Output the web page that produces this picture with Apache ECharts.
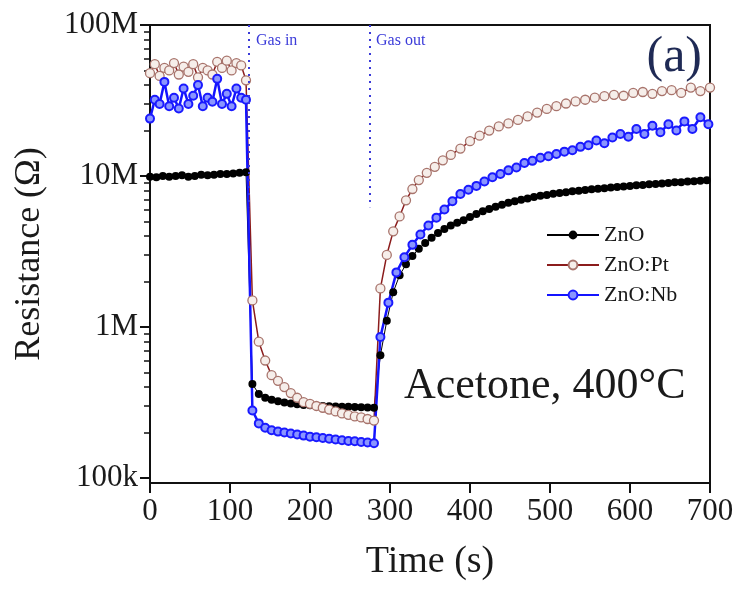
<!DOCTYPE html>
<html>
<head>
<meta charset="utf-8">
<script src="https://cdn.jsdelivr.net/npm/echarts@6/dist/echarts.min.js"></script>
<style>
  html, body { margin: 0; padding: 0; background: #ffffff; }
  #chart { width: 742px; height: 589px; }
</style>
</head>
<body>
<div id="chart"></div>
<script>
// ---- Sensor response data: time in seconds, resistance in MΩ ----
const tZnO = [0, 8, 16, 24, 32, 40, 48, 56, 64, 72, 80, 88, 96, 104, 112, 120,
  128, 136, 144, 152, 160, 168, 176, 184, 192, 200, 208, 216, 224, 232, 240, 248, 256, 264, 272, 280,
  288, 296, 304, 312, 320, 328, 336, 344, 352, 360, 368, 376, 384, 392, 400, 408, 416, 424, 432, 440,
  448, 456, 464, 472, 480, 488, 496, 504, 512, 520, 528, 536, 544, 552, 560, 568, 576, 584, 592, 600,
  608, 616, 624, 632, 640, 648, 656, 664, 672, 680, 688, 696];
const rZnO = [9.9, 9.8, 10.0, 9.9, 10.0, 10.1, 9.9, 10.0, 10.2, 10.1, 10.2, 10.3, 10.3, 10.4, 10.5, 10.6,
  0.42, 0.36, 0.34, 0.33, 0.322, 0.316, 0.312, 0.308, 0.305, 0.303, 0.301, 0.300, 0.299, 0.298, 0.297, 0.296, 0.295, 0.294, 0.293, 0.292,
  0.65, 1.1, 1.7, 2.2, 2.6, 2.95, 3.3, 3.6, 3.9, 4.2, 4.45, 4.7, 4.9, 5.1, 5.35, 5.6, 5.85, 6.05, 6.25, 6.45,
  6.65, 6.8, 6.95, 7.1, 7.25, 7.4, 7.5, 7.62, 7.72, 7.82, 7.92, 8.0, 8.08, 8.16, 8.24, 8.3, 8.38, 8.46, 8.52, 8.6,
  8.68, 8.72, 8.82, 8.84, 8.92, 8.98, 9.08, 9.08, 9.18, 9.22, 9.32, 9.38];

const tPt = [0, 6, 12, 18, 24, 30, 36, 42, 48, 54, 60, 66, 72, 78, 84, 90, 96, 102, 108, 114, 120,
  128, 136, 144, 152, 160, 168, 176, 184, 192, 200, 208, 216, 224, 232, 240, 248, 256, 264, 272, 280,
  288, 296, 304, 312, 320, 328, 336, 346, 356, 366, 376, 388, 400, 412, 424, 436, 448, 460, 472, 484,
  496, 508, 520, 532, 544, 556, 568, 580, 592, 604, 616, 628, 640, 652, 664, 676, 688, 700];
const rPt = [48, 55, 46, 52, 50, 56, 47, 53, 49, 55, 45, 52, 50, 47, 57, 52, 58, 50, 56, 54, 43,
  1.5, 0.8, 0.6, 0.48, 0.44, 0.4, 0.365, 0.34, 0.318, 0.31, 0.3, 0.292, 0.284, 0.276, 0.268, 0.262, 0.256, 0.252, 0.246, 0.24,
  1.8, 3.0, 4.3, 5.4, 6.9, 8.2, 9.4, 10.5, 11.5, 12.7, 13.8, 15.2, 17.0, 18.5, 20.0, 21.3, 22.3, 23.5, 24.8, 26.3,
  27.8, 29.0, 30.2, 31.2, 32.0, 33.0, 33.8, 34.5, 34.0, 35.5, 36.0, 35.0, 36.5, 37.0, 35.5, 38.5, 36.5, 38.5];

const tNb = [0, 6, 12, 18, 24, 30, 36, 42, 48, 54, 60, 66, 72, 78, 84, 90, 96, 102, 108, 114, 120,
  128, 136, 144, 152, 160, 168, 176, 184, 192, 200, 208, 216, 224, 232, 240, 248, 256, 264, 272, 280,
  288, 298, 308, 318, 328, 338, 348, 358, 368, 378, 388, 398, 408, 418, 428, 438, 448, 458, 468, 478,
  488, 498, 508, 518, 528, 538, 548, 558, 568, 578, 588, 598, 608, 618, 628, 638, 648, 658, 668, 678, 688, 698];
const rNb = [24, 32, 30, 42, 29, 33, 28, 38, 30, 34, 40, 29, 33, 31, 44, 30, 35, 29, 38, 33, 32,
  0.28, 0.23, 0.215, 0.207, 0.203, 0.2, 0.197, 0.194, 0.191, 0.188, 0.186, 0.184, 0.182, 0.18, 0.178, 0.176, 0.175, 0.173, 0.172, 0.17,
  0.86, 1.45, 2.3, 2.9, 3.5, 4.1, 4.7, 5.3, 6.0, 6.8, 7.6, 8.1, 8.6, 9.2, 9.8, 10.3, 10.9, 11.4, 12.2, 12.6,
  13.2, 13.5, 14.0, 14.5, 14.8, 15.6, 16.0, 17.2, 16.5, 18.0, 19.0, 18.2, 20.5, 19.0, 21.5, 19.5, 22.0, 20.0, 23.0, 20.5, 24.5, 22.0];

// Gas switching instants (s)
const gasInTime = 123;
const gasOutTime = 275;

// Axis ticks
const xTickValues = [0, 100, 200, 300, 400, 500, 600, 700];
const yMajorValues = [1e5, 1e6, 1e7, 1e8];
const yMajorLabels = ['100k', '1M', '10M', '100M'];
const yMinorValues = [2e5, 3e5, 4e5, 5e5, 6e5, 7e5, 8e5, 9e5,
  2e6, 3e6, 4e6, 5e6, 6e6, 7e6, 8e6, 9e6,
  2e7, 3e7, 4e7, 5e7, 6e7, 7e7, 8e7, 9e7];
const yMin = 92700;
const yMax = 1e8;

const serif = '"Liberation Serif", "Times New Roman", serif';
const ink = '#1a1a1a';

function pairs(ts, rs) {
  return ts.map((t, i) => [t, rs[i] * 1e6]);
}

function yLabel(v) {
  for (let i = 0; i < yMajorValues.length; i++) {
    if (Math.abs(Math.log10(v) - Math.log10(yMajorValues[i])) < 1e-6) return yMajorLabels[i];
  }
  return '';
}

const chart = echarts.init(document.getElementById('chart'), null, { renderer: 'canvas' });

chart.setOption({
  animation: false,
  backgroundColor: '#ffffff',
  grid: {
    left: 150, right: 32, top: 25, bottom: 106,
    show: true, borderColor: '#111', borderWidth: 2, backgroundColor: 'transparent'
  },
  xAxis: {
    type: 'value', min: xTickValues[0], max: xTickValues[xTickValues.length - 1], interval: 100,
    axisLine: { onZero: false, lineStyle: { color: '#111', width: 2 } },
    axisTick: { inside: false, length: 10, lineStyle: { color: '#111', width: 2 } },
    axisLabel: { fontFamily: serif, fontSize: 31, color: ink, margin: 13 },
    splitLine: { show: false },
    name: 'Time (s)', nameLocation: 'middle', nameGap: 60,
    nameTextStyle: { fontFamily: serif, fontSize: 38, color: ink }
  },
  yAxis: [
    {
      type: 'log', logBase: 10, min: yMin, max: yMax, position: 'left',
      axisLine: { show: true, onZero: false, lineStyle: { color: '#111', width: 2 } },
      axisTick: { show: true, inside: false, length: 10, customValues: yMajorValues, lineStyle: { color: '#111', width: 2 } },
      axisLabel: { customValues: yMajorValues, formatter: yLabel, fontFamily: serif, fontSize: 31, color: ink, margin: 12 },
      splitLine: { show: false },
      name: 'Resistance (Ω)', nameLocation: 'middle', nameGap: 102,
      nameTextStyle: { fontFamily: serif, fontSize: 36, color: ink }
    },
    {
      type: 'log', logBase: 10, min: yMin, max: yMax, position: 'left',
      axisLine: { show: false },
      axisTick: { show: true, inside: false, length: 6, customValues: yMinorValues, lineStyle: { color: '#111', width: 1.5 } },
      axisLabel: { show: false },
      splitLine: { show: false }
    }
  ],
  legend: {
    orient: 'vertical', left: 541, top: 219,
    itemWidth: 52, itemHeight: 11, itemGap: 8,
    textStyle: { fontFamily: serif, fontSize: 22, color: ink },
    data: ['ZnO', 'ZnO:Pt', 'ZnO:Nb']
  },
  series: [
    {
      name: 'ZnO', type: 'line', data: pairs(tZnO, rZnO),
      symbol: 'circle', symbolSize: 8, showSymbol: true,
      lineStyle: { color: '#000', width: 1 },
      itemStyle: { color: '#000' },
      markLine: {
        silent: true, symbol: 'none',
        label: { show: false },
        lineStyle: { color: '#3a3ad8', type: [2, 5], width: 2 },
        data: [
          [{ coord: [gasInTime, yMax] }, { coord: [gasInTime, 6.2e6] }],
          [{ coord: [gasOutTime, yMax] }, { coord: [gasOutTime, 6.2e6] }]
        ]
      }
    },
    {
      name: 'ZnO:Pt', type: 'line', data: pairs(tPt, rPt),
      symbol: 'circle', symbolSize: 9, showSymbol: true,
      lineStyle: { color: '#8b1c1c', width: 1.5 },
      itemStyle: { color: '#f6eeea', borderColor: '#a8746c', borderWidth: 1.3 }
    },
    {
      name: 'ZnO:Nb', type: 'line', data: pairs(tNb, rNb),
      symbol: 'circle', symbolSize: 8, showSymbol: true,
      lineStyle: { color: '#1414ff', width: 2.5 },
      itemStyle: { color: '#8a95ff', borderColor: '#1a1aff', borderWidth: 2 }
    }
  ],
  graphic: [
    { type: 'text', left: 256, top: 33, style: { text: 'Gas in', fontFamily: serif, fontSize: 16, fill: '#3b3bd9' } },
    { type: 'text', left: 376, top: 33, style: { text: 'Gas out', fontFamily: serif, fontSize: 16, fill: '#3b3bd9' } },
    { type: 'text', right: 40, top: 33, style: { text: '(a)', fontFamily: serif, fontSize: 50, fill: '#1f2a55' } },
    { type: 'text', left: 404, top: 364, style: { text: 'Acetone, 400°C', fontFamily: serif, fontSize: 44, fill: ink } }
  ]
});
</script>
</body>
</html>
